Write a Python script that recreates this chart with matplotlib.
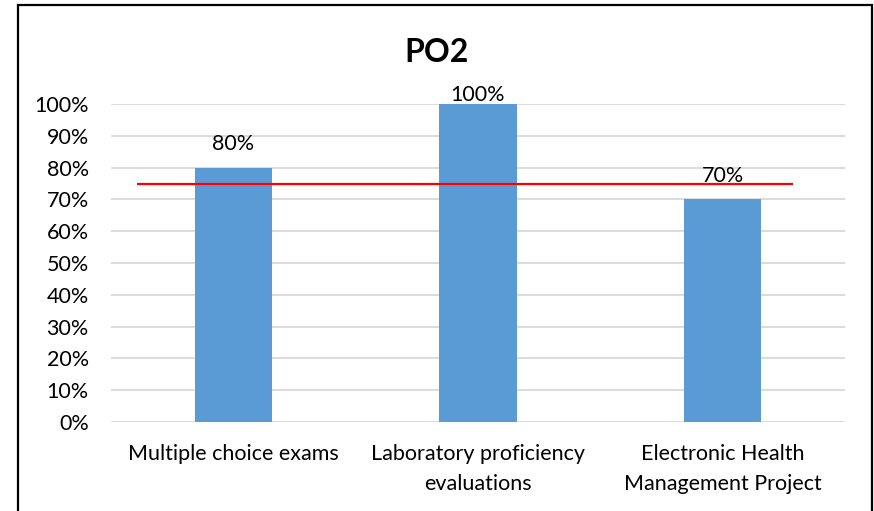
import matplotlib
matplotlib.use("Agg")
import matplotlib.pyplot as plt
from matplotlib.patches import Rectangle
from matplotlib.ticker import PercentFormatter

categories = ["Multiple choice exams", "Laboratory proficiency\nevaluations",
              "Electronic Health\nManagement Project"]
values = [80, 100, 70]
value_labels = ["80%", "100%", "70%"]
target = 75
title = "PO2"

plt.rcParams['font.family'] = ['Lato', 'DejaVu Sans']

W, H = 874, 511
fig = plt.figure(figsize=(W / 100, H / 100), dpi=100)
ax = fig.add_axes([111 / W, 1 - 422 / H, (845 - 111) / W, (422 - 104) / H])

x = list(range(len(categories)))
ax.bar(x, values, width=0.315, color="#5B9BD5", zorder=3)

# target line (drawn like the original shape, not spanning the full axis)
ax.hlines(target, -0.394, 2.287, colors="#FF0000", linewidth=1.6, zorder=4)

FS = 15.5
label_offsets = [10, -1, 10]  # points above bar top
for xi, v, lab, off in zip(x, values, value_labels, label_offsets):
    ax.annotate(lab, (xi, v), xytext=(0, off), textcoords="offset points",
                ha="center", va="bottom", fontsize=FS, color="black", zorder=5)

ax.set_xlim(-0.5, len(categories) - 0.5)
ax.set_ylim(0, 100)
ax.set_yticks(range(0, 101, 10))
ax.yaxis.set_major_formatter(PercentFormatter(decimals=0))
ax.set_xticks(x)
ax.set_xticklabels(categories, fontsize=FS, linespacing=1.6)
ax.tick_params(axis="y", length=0, pad=16, labelsize=FS)
ax.tick_params(axis="x", length=0, pad=16)
ax.yaxis.grid(True, color="#D9D9D9", linewidth=1.3, zorder=0)
ax.set_axisbelow(True)
for s in ax.spines.values():
    s.set_visible(False)

fig.text(437 / W, 1 - 52 / H, title, ha="center", va="center",
         fontsize=23, fontweight="bold")

fig.patches.append(Rectangle((17.5 / W, -0.05), (871.5 - 17.5) / W, 1.05 - 5.5 / H,
                             transform=fig.transFigure, fill=False,
                             edgecolor="black", linewidth=1.6))

fig.savefig("out.png", dpi=100)
